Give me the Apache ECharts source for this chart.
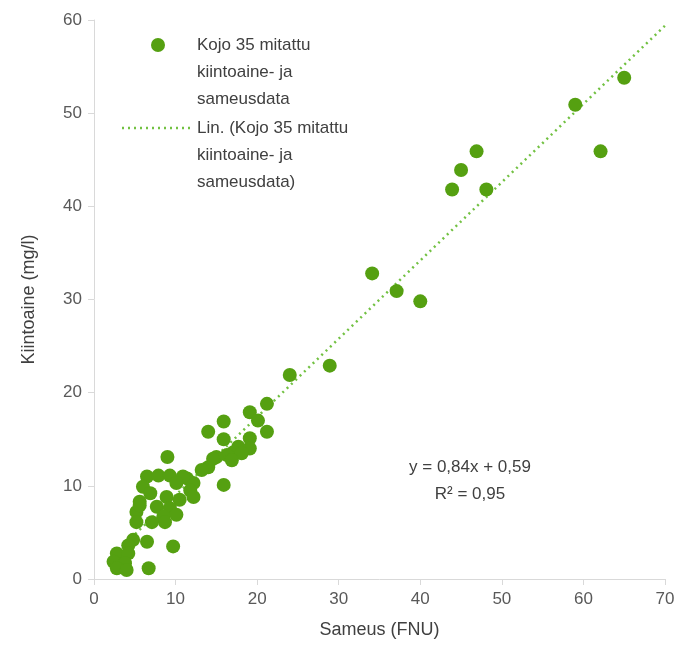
<!DOCTYPE html>
<html>
<head>
<meta charset="utf-8">
<script src="https://cdn.jsdelivr.net/npm/echarts@6/dist/echarts.min.js"></script>
<style>
  html, body { margin: 0; padding: 0; background: #fff; }
  #chart { width: 681px; height: 659px; }
</style>
</head>
<body>
<div id="chart"></div>
<script>
// Sameus (FNU)
var sameus = [
  65.0, 59.0, 62.1, 46.9, 45.0, 43.9, 48.1, 34.1, 37.1, 40.0, 28.9, 24.0,
  21.2, 19.1, 20.1, 15.9, 21.2, 14.0, 19.1, 15.9, 19.1, 17.7, 17.1, 16.3,
  15.0, 18.1, 16.9, 14.0, 14.6, 15.9, 11.4, 13.2, 12.2,
  9.0, 6.5, 7.9, 9.3, 10.9, 6.0, 10.1, 11.8, 6.9, 8.9, 10.5, 12.2,
  5.6, 7.7, 9.3, 5.2, 8.5, 10.1,
  5.6, 5.2, 7.1, 8.7, 6.5, 4.8, 4.2, 9.7, 2.8, 4.2, 2.4, 3.8, 2.8, 4.0, 6.7
]
// Kiintoaine (mg/l)
var kiintoaine = [
  53.8, 50.9, 45.9, 45.9, 43.9, 41.8, 41.8, 32.8, 30.9, 29.8, 22.9, 21.9,
  18.8, 17.9, 17.0, 16.9, 15.8, 15.8, 15.1, 15.0, 14.0, 14.2, 13.6, 13.3,
  13.1, 13.5, 12.75, 12.0, 12.9, 10.1, 10.8, 11.7, 10.3,
  13.1, 11.0, 11.1, 11.1, 11.0, 9.9, 10.3, 9.5, 9.2, 8.8, 8.5, 8.8,
  8.3, 7.75, 7.6, 7.2, 6.7, 6.9,
  7.9, 6.1, 6.1, 6.1, 4.0, 4.2, 3.6, 3.5, 2.75, 2.75, 1.85, 1.7, 1.15, 0.96, 1.15
]
// lineaarinen trendi
var trendSlope = 0.84
var trendIntercept = 0.59
var trendEnd = 70
var xTicks = [0, 70, 10]
var yTicks = [0, 60, 10]

var seriesName = 'Kojo 35 mitattu kiintoaine- ja sameusdata'
var points = sameus.map(function (x, i) { return [x, kiintoaine[i]] })
var trendStart = Math.min.apply(null, sameus)
var trend = [
  [trendStart, trendSlope * trendStart + trendIntercept],
  [trendEnd, trendSlope * trendEnd + trendIntercept]
]

var font = '"Liberation Sans", Arial, sans-serif'
var dotColor = '#55a011'
var lineColor = '#72c142'
var textColor = '#404040'

var chart = echarts.init(document.getElementById('chart'))
chart.setOption({
  animation: false,
  textStyle: { fontFamily: font },
  grid: { left: 94, right: 16, top: 20, bottom: 80 },
  xAxis: {
    type: 'value',
    min: xTicks[0], max: xTicks[1], interval: xTicks[2],
    name: 'Sameus (FNU)',
    nameLocation: 'middle',
    nameGap: 42,
    nameTextStyle: { fontSize: 18, color: textColor, fontFamily: font },
    axisLine: { show: true, lineStyle: { color: '#d9d9d9', width: 1 } },
    axisTick: { show: true, length: 6, lineStyle: { color: '#d9d9d9' } },
    axisLabel: { fontSize: 17, color: '#595959', margin: 12, fontFamily: font },
    splitLine: { show: false }
  },
  yAxis: {
    type: 'value',
    min: yTicks[0], max: yTicks[1], interval: yTicks[2],
    name: 'Kiintoaine (mg/l)',
    nameLocation: 'middle',
    nameGap: 56,
    nameTextStyle: { fontSize: 18, color: textColor, fontFamily: font },
    axisLine: { show: true, lineStyle: { color: '#d9d9d9', width: 1 } },
    axisTick: { show: true, length: 6, lineStyle: { color: '#d9d9d9' } },
    axisLabel: { fontSize: 17, color: '#595959', margin: 12, fontFamily: font },
    splitLine: { show: false }
  },
  series: [
    {
      name: 'Lin. (' + seriesName + ')',
      type: 'line',
      data: trend,
      symbol: 'none',
      z: 1,
      lineStyle: { color: lineColor, width: 2.5, type: [2, 4] }
    },
    {
      name: seriesName,
      type: 'scatter',
      data: points,
      symbol: 'circle',
      symbolSize: 14,
      z: 2,
      itemStyle: { color: dotColor, opacity: 1 }
    }
  ],
  graphic: [
    // selite
    { type: 'circle', shape: { cx: 158, cy: 45, r: 7 }, style: { fill: dotColor } },
    {
      type: 'text', left: 197, top: 32,
      style: {
        text: 'Kojo 35 mitattu\nkiintoaine- ja\nsameusdata',
        font: '17px ' + font, fill: textColor, lineHeight: 27
      }
    },
    {
      type: 'line', shape: { x1: 122, y1: 128, x2: 190, y2: 128 },
      style: { stroke: lineColor, lineWidth: 2.5, lineDash: [2, 4] }
    },
    {
      type: 'text', left: 197, top: 115,
      style: {
        text: 'Lin. (Kojo 35 mitattu\nkiintoaine- ja\nsameusdata)',
        font: '17px ' + font, fill: textColor, lineHeight: 27
      }
    },
    // yhtälö
    {
      type: 'text', x: 470, y: 454,
      style: {
        text: 'y = 0,84x + 0,59\nR² = 0,95',
        font: '17px ' + font, fill: textColor, lineHeight: 27, align: 'center'
      }
    }
  ]
})
</script>
</body>
</html>
